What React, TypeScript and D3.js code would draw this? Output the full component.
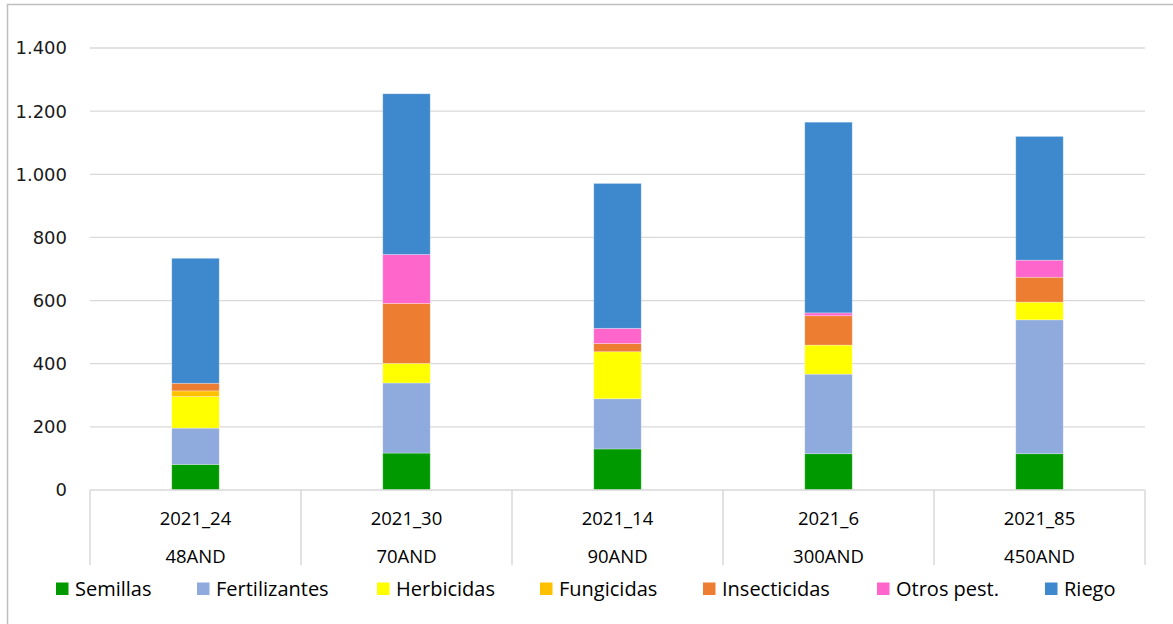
import React from "react";
import * as d3 from "d3";

const categories = ["2021_24", "2021_30", "2021_14", "2021_6", "2021_85"];
const subLabels = ["48AND", "70AND", "90AND", "300AND", "450AND"];
const seriesNames = ["Semillas", "Fertilizantes", "Herbicidas", "Fungicidas", "Insecticidas", "Otros pest.", "Riego"];
const semillas = [81, 117, 130, 115, 115];
const fertilizantes = [115, 222, 159, 252, 424];
const herbicidas = [100, 62, 149, 92, 56];
const fungicidas = [18, 0, 0, 0, 0];
const insecticidas = [24, 190, 26, 93, 79];
const otros = [0, 155, 48, 9, 54];
const riego = [396, 509, 459, 604, 392];
const yTicks = [0, 200, 400, 600, 800, 1000, 1200, 1400];
const colors = ["#009900", "#8FAADC", "#FFFF00", "#FFC000", "#ED7D31", "#FF66CC", "#3E89CE"];

const W = 1173;
const H = 624;
const plotLeft = 90;
const plotRight = 1145;
const plotTop = 48;
const plotBottom = 490;
const legendXs = [56, 197, 377, 540, 703, 877, 1045];

export default function App() {
  const seriesValues = [semillas, fertilizantes, herbicidas, fungicidas, insecticidas, otros, riego];
  const rows = categories.map((c, i) => {
    const r: any = { cat: c };
    seriesNames.forEach((s, k) => (r[s] = seriesValues[k][i]));
    return r;
  });
  const stack = d3.stack().keys(seriesNames)(rows as any);
  const x = d3.scaleBand().domain(categories).range([plotLeft, plotRight]).paddingInner(0).paddingOuter(0);
  const y = d3.scaleLinear().domain([0, 1400]).range([plotBottom, plotTop]);
  const barW = x.bandwidth() * 0.225;
  const fmt = (v: number) => d3.format(",")(v).replace(/,/g, ".");

  return (
    <svg width={W} height={H} style={{ position: "absolute", left: 0, top: 0, background: "#fff" }}>
      <rect x={7.5} y={4.5} width={1300} height={800} fill="#fff" stroke="#bfbfbf" strokeWidth={1.5} />
      {yTicks.map((t) => (
        <g key={t}>
          {t > 0 && (
            <line x1={plotLeft} x2={plotRight} y1={y(t)} y2={y(t)} stroke="#d9d9d9" strokeWidth={1.3} />
          )}
          <text
            x={67}
            y={y(t)}
            dy="0.36em"
            textAnchor="end"
            fontFamily="DejaVu Sans"
            fontSize={18}
            fill="#1a1a1a"
          >
            {fmt(t)}
          </text>
        </g>
      ))}
      {stack.map((layer, k) => (
        <g key={seriesNames[k]} fill={colors[k]}>
          {layer.map((d: any, i: number) => {
            const h = y(d[0]) - y(d[1]);
            if (h <= 0) return null;
            const cx = (x(categories[i]) as number) + x.bandwidth() / 2;
            return (
              <rect
                key={i}
                x={cx - barW / 2}
                y={y(d[1])}
                width={barW}
                height={h}
                stroke="#ffffff"
                strokeOpacity={0.35}
                strokeWidth={0.8}
              />
            );
          })}
        </g>
      ))}
      <line x1={plotLeft} x2={plotRight} y1={plotBottom} y2={plotBottom} stroke="#d9d9d9" strokeWidth={1.5} />
      {[...categories.map((c) => x(c) as number), plotRight].map((px, i) => (
        <line key={i} x1={px} x2={px} y1={plotBottom} y2={565} stroke="#d9d9d9" strokeWidth={1.5} />
      ))}
      {categories.map((c, i) => {
        const cx = (x(c) as number) + x.bandwidth() / 2;
        return (
          <g key={c} fontFamily="Open Sans" fontSize={18.5} fill="#000" textAnchor="middle">
            <text x={cx} y={525}>{c}</text>
            <text x={cx} y={563}>{subLabels[i]}</text>
          </g>
        );
      })}
      {seriesNames.map((s, k) => (
        <g key={s}>
          <rect x={legendXs[k]} y={582.5} width={12.5} height={12.5} fill={colors[k]} />
          <text x={legendXs[k] + 19} y={595.5} fontFamily="Open Sans" fontSize={20} fill="#000">
            {s}
          </text>
        </g>
      ))}
    </svg>
  );
}
